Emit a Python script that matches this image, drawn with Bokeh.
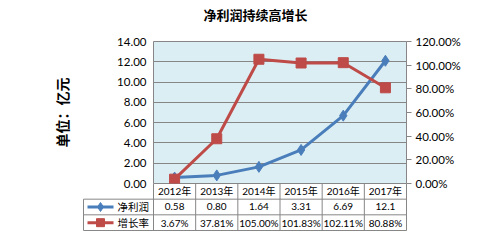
from bokeh.plotting import figure
from bokeh.models import Range1d, LinearAxis, FixedTicker, NumeralTickFormatter
from bokeh.layouts import column
from bokeh.core.properties import value
from bokeh.embed import file_html
from bokeh.resources import INLINE
import numpy as np

# ---------------- data ----------------
years = ["2012年", "2013年", "2014年", "2015年", "2016年", "2017年"]
profit = [0.58, 0.80, 1.64, 3.31, 6.69, 12.1]
profit_labels = ["0.58", "0.80", "1.64", "3.31", "6.69", "12.1"]
growth = [0.0367, 0.3781, 1.05, 1.0183, 1.0211, 0.8088]
series_names = ["净利润", "增长率"]
left_ticks = [0, 2, 4, 6, 8, 10, 12, 14]
right_ticks = [0, 0.2, 0.4, 0.6, 0.8, 1.0, 1.2]
title_text = "净利润持续高增长"
y_label = "单位：亿元"

# ---------------- styles ----------------
BLUE = "#4A7EBB"
RED = "#BE4B48"
GRID = "#868686"
BG = "#DBEEF4"
FONT = "Lato"
CJK = "Noto Sans CJK SC"
MIX = FONT + ", " + CJK

n = len(years)
xs = np.arange(n) + 0.5

# ---------------- title strip ----------------
TH = 28
t = figure(width=500, height=TH, x_range=Range1d(0, 500), y_range=Range1d(0, TH),
           output_backend="svg", toolbar_location=None,
           x_axis_location=None, y_axis_location=None,
           min_border_left=0, min_border_right=0, min_border_top=0, min_border_bottom=0)
t.frame_align = False
t.outline_line_color = None
t.xgrid.visible = False
t.ygrid.visible = False
t.background_fill_color = "white"
t.border_fill_color = "white"
t.text(x=[203], y=[TH - 14], text=[title_text], text_font=value(CJK), text_font_size="13px",
       text_font_style="bold", text_color="black", text_align="left", text_baseline="middle")

# ---------------- chart ----------------
p = figure(width=500, height=190 - TH, x_range=Range1d(0, n), y_range=Range1d(0, 14),
           output_backend="svg", toolbar_location=None, x_axis_location=None,
           min_border_left=153, min_border_right=94, min_border_top=41 - TH, min_border_bottom=7)
p.frame_align = False
p.background_fill_color = BG
p.border_fill_color = "white"
p.outline_line_color = GRID
p.outline_line_width = 1
p.xgrid.visible = False

ya = p.yaxis[0]
ya.ticker = FixedTicker(ticks=left_ticks)
ya.formatter = NumeralTickFormatter(format="0.00")
ya.axis_line_color = None
ya.major_tick_line_color = None
ya.major_tick_out = 0
ya.minor_tick_line_color = None
ya.major_label_standoff = 7
ya.major_label_text_font = FONT
ya.major_label_text_font_size = "11.5px"
ya.major_label_text_color = "black"
ya.axis_label = y_label
ya.axis_label_text_font = CJK
ya.axis_label_text_font_size = "14px"
ya.axis_label_text_font_style = "bold"
ya.axis_label_text_color = "black"
ya.axis_label_standoff = 42

p.ygrid.ticker = FixedTicker(ticks=left_ticks)
p.ygrid.grid_line_color = GRID
p.ygrid.grid_line_width = 1

p.extra_y_ranges = {"pct": Range1d(0, 1.2)}
ra = LinearAxis(y_range_name="pct", ticker=FixedTicker(ticks=right_ticks),
                formatter=NumeralTickFormatter(format="0.00%"))
ra.axis_line_color = None
ra.major_tick_line_color = GRID
ra.major_tick_in = 0
ra.major_tick_out = 5
ra.minor_tick_line_color = None
ra.major_label_standoff = 4
ra.major_label_text_font = FONT
ra.major_label_text_font_size = "11.5px"
ra.major_label_text_color = "black"
p.add_layout(ra, "right")

p.line(xs, profit, line_color=BLUE, line_width=3)
p.scatter(xs, profit, marker="diamond", size=11, fill_color=BLUE, line_color=BLUE)
p.line(xs, growth, line_color=RED, line_width=3, y_range_name="pct")
p.scatter(xs, growth, marker="square", size=10, fill_color=RED, line_color=RED, y_range_name="pct")

# ---------------- data table ----------------
col_w = 253.0 / n             # px per column
row_h = 15.5                  # px per row
legend_w = 70.0 / col_w
q = figure(width=500, height=58,
           x_range=Range1d(-legend_w - 1.0 / col_w, n + 2.0 / col_w),
           y_range=Range1d(-1.0 / row_h, 3),
           output_backend="svg", toolbar_location=None,
           x_axis_location=None, y_axis_location=None,
           min_border_left=82, min_border_right=92, min_border_top=0, min_border_bottom=10)
q.frame_align = False
q.margin = (-7, 0, 0, 0)
q.outline_line_color = None
q.xgrid.visible = False
q.ygrid.visible = False
q.background_fill_color = None
q.border_fill_color = None

hy = [2, 1, 0]
q.segment(x0=[-legend_w] * 3, y0=hy, x1=[n] * 3, y1=hy, line_color=GRID, line_width=1)
vx = list(range(n + 1))
q.segment(x0=vx, y0=[0] * len(vx), x1=vx, y1=[3] * len(vx), line_color=GRID, line_width=1)
q.segment(x0=[-legend_w], y0=[0], x1=[-legend_w], y1=[2], line_color=GRID, line_width=1)

# legend samples
lx0 = (87 - 153) / col_w
lx1 = (113 - 153) / col_w
lxm = (100 - 153) / col_w
ltx = (117 - 153) / col_w
q.segment(x0=[lx0], y0=[1.5], x1=[lx1], y1=[1.5], line_color=BLUE, line_width=3)
q.scatter([lxm], [1.5], marker="diamond", size=9, fill_color=BLUE, line_color=BLUE)
q.segment(x0=[lx0], y0=[0.5], x1=[lx1], y1=[0.5], line_color=RED, line_width=3)
q.scatter([lxm], [0.5], marker="square", size=8, fill_color=RED, line_color=RED)
q.text(x=[ltx, ltx], y=[1.5, 0.5], text=series_names, text_font=value(CJK),
       text_font_size="10.5px", text_align="left", text_baseline="middle", text_color="black")

growth_labels = [f"{g * 100:.2f}%" for g in growth]
q.text(x=xs, y=[2.5] * n, text=years, text_font=value(MIX),
       text_font_size="10px", text_align="center", text_baseline="middle", text_color="black")
q.text(x=xs, y=[1.5] * n, text=profit_labels, text_font=value(FONT),
       text_font_size="10px", text_align="center", text_baseline="middle", text_color="black")
q.text(x=xs, y=[0.5] * n, text=growth_labels, text_font=value(FONT),
       text_font_size="10px", text_align="center", text_baseline="middle", text_color="black")

layout = column(t, p, q, spacing=0)
open("out.html", "w").write(file_html(layout, INLINE))
